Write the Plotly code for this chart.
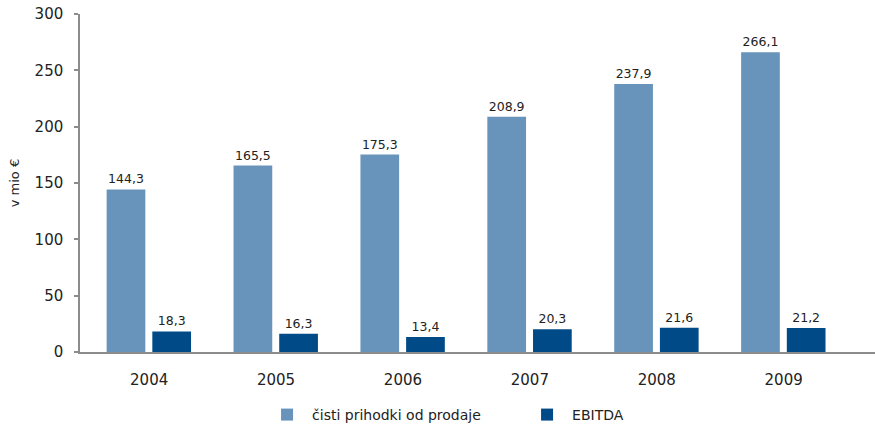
import plotly.graph_objects as go

years = ["2004", "2005", "2006", "2007", "2008", "2009"]
prihodki = [144.3, 165.5, 175.3, 208.9, 237.9, 266.1]
ebitda = [18.3, 16.3, 13.4, 20.3, 21.6, 21.2]
y_ticks = [0, 50, 100, 150, 200, 250, 300]

FONT = "DejaVu Sans, sans-serif"
TXT = "#222222"

fig = go.Figure()
fig.add_trace(go.Bar(
    x=years, y=prihodki, name="čisti prihodki od prodaje",
    marker=dict(color="#6894bb", line=dict(width=0)),
    width=0.305, offset=-0.335,
    texttemplate="%{y:.1f}", textposition="outside",
    textfont=dict(size=12.5, color=TXT, family=FONT), cliponaxis=False,
))
fig.add_trace(go.Bar(
    x=years, y=ebitda, name="EBITDA",
    marker=dict(color="#004a87", line=dict(width=0)),
    width=0.305, offset=0.025,
    texttemplate="%{y:.1f}", textposition="outside",
    textfont=dict(size=12.5, color=TXT, family=FONT), cliponaxis=False,
))

fig.update_layout(
    width=875, height=425,
    margin=dict(l=80, r=0, t=14, b=73, autoexpand=False),
    plot_bgcolor="white", paper_bgcolor="white",
    separators=", ",
    font=dict(family=FONT, color=TXT, size=15),
    barmode="group",
    showlegend=True,
    legend=dict(orientation="h", x=0.229, xanchor="left", y=-0.139, yanchor="top",
                font=dict(size=14, color=TXT, family=FONT),
                itemwidth=40, tracegroupgap=0, entrywidth=205),
    xaxis=dict(
        range=[-0.545, 5.72], showline=True, linecolor="#8c8c8c", linewidth=2,
        ticks="", tickfont=dict(size=15, color=TXT), ticklabelstandoff=13,
        showgrid=False, zeroline=False, automargin=False,
    ),
    yaxis=dict(
        range=[0, 300], tickvals=y_ticks, showline=True, linecolor="#8c8c8c", linewidth=1.5,
        ticks="outside", ticklen=4, tickcolor="#8c8c8c", tickwidth=1.5,
        tickfont=dict(size=15, color=TXT), ticklabelstandoff=8,
        ticklabeloverflow="allow",
        showgrid=False, zeroline=False, automargin=False,
        title=dict(text="v mio €", font=dict(size=13, color=TXT), standoff=12),
    ),
)

# remove the default 8px page margin so the figure fills the window exactly
fig.write_html("out.html", config={"displayModeBar": False},
               post_script="document.body.style.margin='0';")
